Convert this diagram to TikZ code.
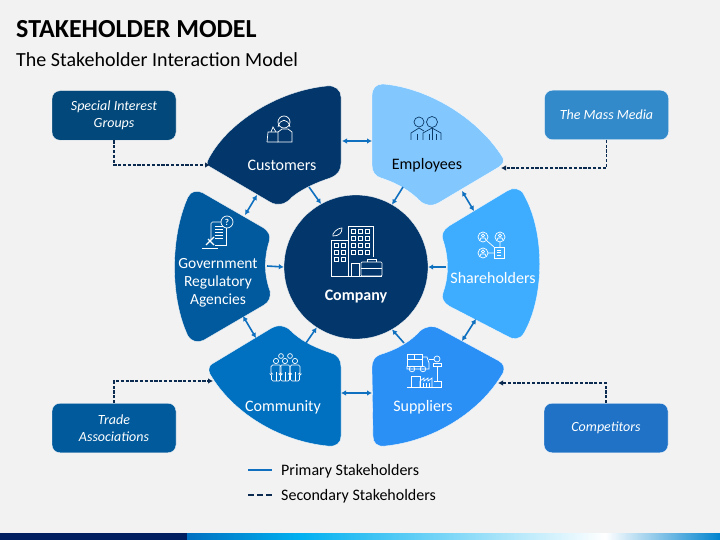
\documentclass[tikz,border=0pt]{standalone}
\usepackage{fontspec}
\setmainfont{Carlito}
\usetikzlibrary{arrows.meta, positioning}
\definecolor{bggray}{HTML}{F2F2F2}
\definecolor{navy}{HTML}{03376B}
\definecolor{petalgov}{HTML}{025A9E}
\definecolor{petalcomm}{HTML}{0070C0}
\definecolor{petalsup}{HTML}{2A90F5}
\definecolor{petalshare}{HTML}{3FADFF}
\definecolor{petalemp}{HTML}{82C8FF}
\definecolor{linkblue}{HTML}{0F70C0}
\definecolor{dashnavy}{HTML}{0A2A50}
\definecolor{darkicon}{HTML}{0B3A66}
\definecolor{stripdark}{HTML}{001F60}
\definecolor{stripcyan}{HTML}{00B0F0}

\begin{document}
\begin{tikzpicture}[
	x=1pt, y=-1pt,
	petal/.style={draw=white, line width=0.3pt},
	plabel/.style={text=white, font=\fontsize{16}{18}\selectfont, align=center, inner sep=0pt},
	ext/.style={rectangle, rounded corners=8pt, text=white, minimum width=124pt, minimum height=49.5pt,
		align=center, inner sep=0pt, font=\fontsize{14}{17}\selectfont\itshape, draw=white, line width=0.3pt},
	link/.style={draw=linkblue, line width=1.6pt, -{Latex[length=5pt,width=5.5pt]}},
	twolink/.style={draw=linkblue, line width=1.6pt, {Latex[length=5pt,width=5.5pt]}-{Latex[length=5pt,width=5.5pt]}},
	dashlink/.style={draw=dashnavy, line width=1.3pt, dash pattern=on 3.2pt off 1.6pt, -{Latex[length=5pt,width=5.5pt]}},
	icon/.style={draw=white, line width=0.7pt},
	legendtext/.style={font=\fontsize{16}{18}\selectfont, anchor=west, inner sep=0pt},
	]
	
	\fill [bggray] (0,0) rectangle (720,540);
	\useasboundingbox (0,0) rectangle (720,540);
	
	% bottom strip
	\fill [stripdark] (0,533) rectangle (187,540);
	\fill [left color=petalcomm, right color=stripcyan] (187,533) rectangle (300,540);
	\fill [left color=stripcyan, right color=white] (300,533) rectangle (605,540);
	\fill [left color=white, right color=petalcomm!70!stripcyan] (605,533) rectangle (720,540);
	
	% titles
	\node [anchor=west, inner sep=0pt, font=\fontsize{26}{30}\selectfont\bfseries] (title) at (16,29) {STAKEHOLDER MODEL};
	\node [anchor=west, inner sep=0pt, font=\fontsize{20}{24}\selectfont] (subtitle) at (16,60) {The Stakeholder Interaction Model};
	
	% petals
	\path [petal, fill=navy] (212,168) .. controls (208,166) and (206,164) .. (208,160) .. controls (226,124) and (276,91) .. (327,86)
		.. controls (335,85) and (341,90) .. (341,97) -- (341,163) .. controls (341,170) and (338,175) .. (330,178)
		.. controls (312,184) and (299,191) .. (291,198) .. controls (285,205) and (277,206) .. (270,202) -- cycle;
	\path [petal, fill=petalemp] (372,96) .. controls (372,88) and (376,84) .. (383,84) .. controls (430,88) and (480,120) .. (503,158)
		.. controls (504,162) and (503,164) .. (499,167) -- (440,202) .. controls (432,207) and (425,206) .. (419,200)
		.. controls (410,191) and (397,183) .. (381,178) .. controls (375,176) and (372,172) .. (372,165) -- cycle;
	\path [petal, fill=petalshare] (507,191) -- (449,226) .. controls (443,230) and (441,235) .. (443,240)
		.. controls (449,258) and (449,276) .. (443,293) .. controls (441,298) and (444,303) .. (449,306) -- (507,336)
		.. controls (513,340) and (520,340) .. (524,333) .. controls (545,296) and (545,232) .. (524,195)
		.. controls (521,188) and (513,187) .. (507,191) -- cycle;
	\path [petal, fill=petalsup] (372,368) .. controls (372,360) and (375,356) .. (382,354) .. controls (398,349) and (411,341) .. (420,331)
		.. controls (426,326) and (433,325) .. (440,329) -- (499,361) .. controls (504,364) and (505,368) .. (503,373)
		.. controls (481,411) and (435,441) .. (385,446) .. controls (377,447) and (373,443) .. (373,436) -- cycle;
	\path [petal, fill=petalcomm] (212,364) -- (270,329) .. controls (278,324) and (285,325) .. (291,331)
		.. controls (300,340) and (313,347) .. (331,353) .. controls (338,355) and (341,360) .. (341,367) -- (341,436)
		.. controls (341,443) and (336,447) .. (328,446) .. controls (278,441) and (232,412) .. (210,374)
		.. controls (208,370) and (209,366) .. (212,364) -- cycle;
	\path [petal, fill=petalgov] (203,193) -- (262,227) .. controls (269,231) and (271,236) .. (269,242)
		.. controls (264,258) and (264,275) .. (270,291) .. controls (271,297) and (269,302) .. (264,305) -- (204,340)
		.. controls (198,343) and (192,342) .. (188,336) .. controls (170,298) and (170,237) .. (188,197)
		.. controls (191,191) and (197,190) .. (203,193) -- cycle;
	
	% centre and outer boxes
	\node [circle, fill=navy, draw=white, line width=0.3pt, minimum size=144pt, inner sep=0pt] (company) at (356,267) {};
	\node [ext, fill={rgb,255:red,2;green,72;blue,122}] (special) at (114,115.5) {Special Interest\\Groups};
	\node [ext, fill={rgb,255:red,51;green,138;blue,203}] (media) at (606.5,115) {The Mass Media};
	\node [ext, fill={rgb,255:red,1;green,90;blue,155}] (trade) at (114,428) {Trade\\Associations};
	\node [ext, fill={rgb,255:red,31;green,114;blue,198}] (competitors) at (606,428) {Competitors};
	
	% labels
	\node [plabel] (customers) at (282,165) {Customers};
	\node [plabel, text=black] (employees) at (427,165) {Employees};
	\node [plabel] (shareholders) at (493,278) {Shareholders};
	\node [plabel] (suppliers) at (423,407) {Suppliers};
	\node [plabel] (community) at (283,407) {Community};
	\node [plabel, font=\fontsize{15.5}{18}\selectfont] (government) at (218,283) {Government\\Regulatory\\Agencies};
	\node [plabel, font=\fontsize{16}{18}\selectfont\bfseries] (companylabel) at (356,297) {Company};
	
	% arrow ends on the petals
	\coordinate (custsouth) at (309,187);
	\coordinate (empsouth) at (403,187);
	\coordinate (sharewest) at (446,267);
	\coordinate (supnorth) at (404,343);
	\coordinate (commnorth) at (306,343);
	\coordinate (goveast) at (267,266);
	\coordinate (custeast) at (342,141);
	\coordinate (empwest) at (372,141);
	\coordinate (empse) at (462,191);
	\coordinate (sharene) at (474,211);
	\coordinate (sharese) at (476,319);
	\coordinate (supne) at (462,341);
	\coordinate (supwest) at (372,393);
	\coordinate (commeast) at (341,393);
	\coordinate (commnw) at (256,338);
	\coordinate (govse) at (243,316);
	\coordinate (govne) at (245,215);
	\coordinate (custsw) at (257,195);
	\coordinate (custtip) at (210,165);
	\coordinate (emptip) at (501,168);
	\coordinate (commtip) at (213,381);
	\coordinate (suptip) at (498,383);
	
	% primary links
	\draw [link] (custsouth) -- (company.119);
	\draw [link] (empsouth) -- (company.60);
	\draw [link] (sharewest) -- (company.east);
	\draw [link] (supnorth) -- (company.-60);
	\draw [link] (commnorth) -- (company.-123);
	\draw [link] (goveast) -- (company.west);
	\draw [twolink] (custeast) -- (empwest);
	\draw [twolink] (empse) -- (sharene);
	\draw [twolink] (sharese) -- (supne);
	\draw [twolink] (supwest) -- (commeast);
	\draw [twolink] (commnw) -- (govse);
	\draw [twolink] (govne) -- (custsw);
	
	% secondary links
	\draw [dashlink] (special.south) |- (custtip);
	\draw [dashlink] (media.south) |- (emptip);
	\draw [dashlink] (trade.north) |- (commtip);
	\draw [dashlink] (competitors.north) |- (suptip);
	
	% legend
	\coordinate (primaryA) at (248,470);
	\coordinate (primaryB) at (272,470);
	\coordinate (secondA) at (248,495);
	\coordinate (secondB) at (272,495);
	\draw [draw=linkblue, line width=1.6pt] (primaryA) -- (primaryB);
	\draw [draw=dashnavy, line width=1.6pt, dash pattern=on 6pt off 3pt] (secondA) -- (secondB);
	\node [legendtext] (primary) at (281,471) {Primary Stakeholders};
	\node [legendtext] (secondary) at (281,496) {Secondary Stakeholders};
	
	% company icon
	\draw [icon] (348,276) -- (348,226) -- (373,226) -- (373,257);
	\draw [icon] (348,240) -- (331,240) -- (331,276) -- (382,276);
	\foreach \x in {353,360,367} \foreach \y in {231,238,245,252}
		\draw [icon] (\x-2,\y-2) rectangle (\x+2,\y+2);
	\foreach \x in {336,343} \foreach \y in {245,252,259}
		\draw [icon] (\x-2,\y-2) rectangle (\x+2,\y+2);
	\draw [icon] (351,276) -- (351,263) -- (359,263) -- (359,276);
	\draw [icon, rounded corners=1pt] (361,262) rectangle (382,276);
	\draw [icon] (367,262) -- (367,259) -- (376,259) -- (376,262);
	\draw [icon] (361,268) -- (382,268);
	\draw [icon] (333,234) .. controls (336,229) and (340,228) .. (342,228) .. controls (342,233) and (339,236) .. (333,236) -- cycle;
	
	% customers icon
	\draw [icon] (284,122) circle (6);
	\draw [icon] (278,127) .. controls (280,118) and (288,118) .. (290,127);
	\draw [icon] (278,142) -- (278,132) -- (282,129) -- (288,129) -- (292,132) -- (292,142) -- cycle;
	\draw [icon] (267,142) -- (268,132) -- (278,132) (267,142) -- (278,142);
	\draw [icon] (271,132) -- (273,127) -- (276,132);
	
	% employees icon
	\begin{scope}[icon/.style={draw=darkicon, line width=0.7pt}]
		\draw [icon] (419,122) circle (5);
		\draw [icon] (432,122) circle (5.5);
		\draw [icon] (411,140) -- (411,133) -- (419,128) -- (424,131);
		\draw [icon] (423,140) -- (423,133) -- (432,128) -- (441,133) -- (441,140);
		\draw [icon] (417,140) -- (417,134) (429,140) -- (429,134) (436,140) -- (436,134) (432,128) -- (432,140);
	\end{scope}
	
	% shareholders icon
	\foreach \x/\y in {483/237,500/237,483/253}{
		\draw [icon] (\x,\y) circle (5);
		\draw [icon] (\x,\y-1.5) circle (1.6);
		\draw [icon] (\x-3,\y+3) -- (\x-2,\y+1) -- (\x+2,\y+1) -- (\x+3,\y+3);
	}
	\draw [icon] (494,247) rectangle (504,258);
	\draw [icon] (497,250) -- (501,250) (497,252.5) -- (501,252.5) (497,255) -- (501,255);
	\draw [icon] (487,241) -- (494,247) (500,242) -- (500,247) (488,253) -- (494,253);
	
	% suppliers icon
	\draw [icon] (407,354) rectangle (422,366);
	\draw [icon] (414,354) -- (414,359) (407,359) -- (422,359);
	\draw [icon] (422,357) -- (427,357) -- (429,363) -- (429,369) -- (407,369) -- (407,366);
	\draw [icon] (412,369) circle (2.8) (423,369) circle (2.8);
	\draw [icon] (437,359) circle (3);
	\draw [icon] (433,366) -- (433,363.5) -- (441,363.5) -- (441,366) -- cycle;
	\draw [icon] (429,359) -- (434,359) (437,366) -- (437,381);
	\draw [icon] (407,387) -- (441,387) -- (441,381) -- (434,381);
	\draw [icon] (411,387) -- (411,376) -- (420,376) -- (420,387);
	\draw [icon] (420,387) -- (420,381) -- (424,378) -- (424,381) -- (428,378) -- (428,381) -- (432,378) -- (432,387);
	\foreach \x in {423,426,429}
		\draw [icon] (\x,383) -- (\x,387);
	
	% community icon
	\foreach \x in {281,290}
		\draw [icon] (\x,356) circle (2.4);
	\foreach \x in {276,285,295}{
		\draw [icon] (\x,361) circle (2.6);
		\draw [icon, rounded corners=1.5pt] (\x-4.5,381) -- (\x-4.5,374) -- (\x-5,374) -- (\x-5,365) -- (\x+5,365) -- (\x+5,374) -- (\x+4.5,374) -- (\x+4.5,381) -- cycle;
		\draw [icon] (\x,372) -- (\x,381);
	}
	
	% government icon
	\draw [icon, rounded corners=1.5pt] (211,240) -- (211,222) -- (226,222) -- (226,228);
	\draw [icon] (226,228) -- (226,245) -- (215,245);
	\foreach \y in {226,229,232,235,238}
		\draw [icon] (215,\y) -- (223,\y);
	\draw [icon, fill=petalgov] (227,222) circle (6);
	\node [text=white, inner sep=0pt, font=\fontsize{9}{9}\selectfont\bfseries] (question) at (227,222) {?};
	\draw [icon] (202,248) -- (218,248);
	\draw [icon, line width=1.2pt] (206,245) -- (214,237);
	\draw [icon, line width=1.2pt] (208,239) -- (214,245);
	
\end{tikzpicture}
\end{document}
